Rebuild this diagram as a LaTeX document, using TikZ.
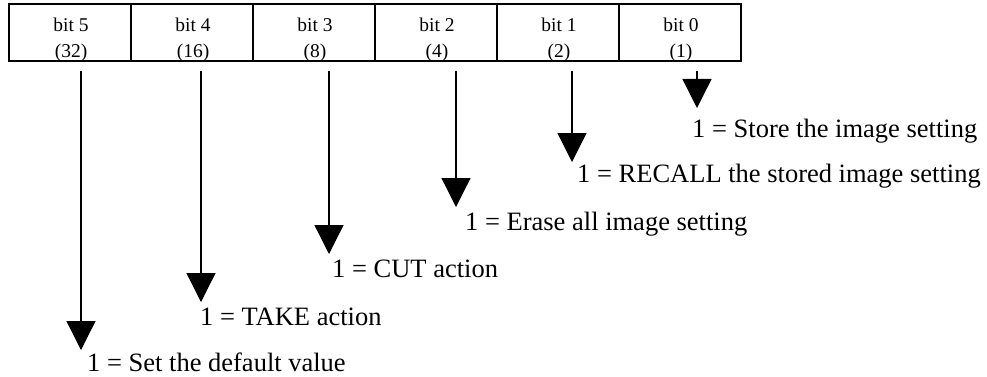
\documentclass[tikz,border=0pt]{standalone}
\usepackage{fontspec}
\setmainfont{Liberation Serif}
\usetikzlibrary{arrows.meta}
\tikzset{
  cell/.style={draw, line width=1.5pt, minimum width=122pt, minimum height=57pt, inner sep=0pt},
  bittext/.style={anchor=base, inner sep=0pt, font=\fontsize{19.5}{22}\selectfont},
  meaning/.style={anchor=base west, inner sep=0pt, font=\fontsize{26.5}{30}\selectfont},
  bitarrow/.style={line width=1.3pt, -{Triangle[width=29pt,length=29pt]}}
}
\begin{document}
\begin{tikzpicture}[x=1pt, y=-1pt]
  \useasboundingbox (0,0) rectangle (987,377);
  % register cells
  \node[cell] (c5) at (70,32.5) {};
  \node[cell] (c4) at (192,32.5) {};
  \node[cell] (c3) at (314,32.5) {};
  \node[cell] (c2) at (436,32.5) {};
  \node[cell] (c1) at (558,32.5) {};
  \node[cell] (c0) at (680,32.5) {};
  % bit names and weights
  \node[bittext] (n5) at (71,32) {bit 5};   \node[bittext] (w5) at (71,58) {(32)};
  \node[bittext] (n4) at (193,32) {bit 4};  \node[bittext] (w4) at (193,58) {(16)};
  \node[bittext] (n3) at (315,32) {bit 3};  \node[bittext] (w3) at (315,58) {(8)};
  \node[bittext] (n2) at (437,32) {bit 2};  \node[bittext] (w2) at (437,58) {(4)};
  \node[bittext] (n1) at (559,32) {bit 1};  \node[bittext] (w1) at (559,58) {(2)};
  \node[bittext] (n0) at (681,32) {bit 0};  \node[bittext] (w0) at (681,58) {(1)};
  % arrow ends
  \coordinate (s5) at (81,71);  \coordinate (e5) at (81,350);
  \coordinate (s4) at (201,71); \coordinate (e4) at (201,302);
  \coordinate (s3) at (329,71); \coordinate (e3) at (329,254);
  \coordinate (s2) at (456,71); \coordinate (e2) at (456,207);
  \coordinate (s1) at (572,71); \coordinate (e1) at (572,162);
  \coordinate (s0) at (697,71); \coordinate (e0) at (697,108);
  \foreach \i in {0,...,5} { \draw[bitarrow] (s\i) -- (e\i); }
  % meanings
  \node[meaning] (m0) at (692,137) {1 = Store the image setting};
  \node[meaning] (m1) at (577,182) {1 = RECALL the stored image setting};
  \node[meaning] (m2) at (465,230) {1 = Erase all image setting};
  \node[meaning] (m3) at (332,277) {1 = CUT action};
  \node[meaning] (m4) at (200,325) {1 = TAKE action};
  \node[meaning] (m5) at (87,371) {1 = Set the default value};
\end{tikzpicture}
\end{document}
